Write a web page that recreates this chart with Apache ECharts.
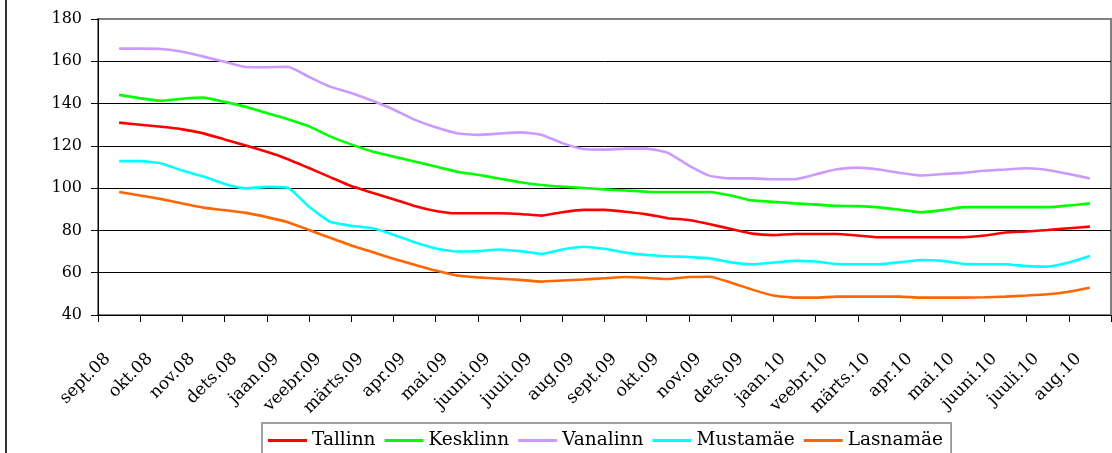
<!DOCTYPE html>
<html>
<head>
<meta charset="utf-8">
<script src="https://cdn.jsdelivr.net/npm/echarts@6/dist/echarts.min.js"></script>
<style>
html,body{margin:0;padding:0;background:#fff;}
#chart{width:1112px;height:453px;}
</style>
</head>
<body>
<div id="chart"></div>
<script>
// Month categories (x-axis labels)
var months = ['sept.08','okt.08','nov.08','dets.08','jaan.09','veebr.09','märts.09','apr.09','mai.09','juuni.09','juuli.09','aug.09',
  'sept.09','okt.09','nov.09','dets.09','jaan.10','veebr.10','märts.10','apr.10','mai.10','juuni.10','juuli.10','aug.10'];

// Series values: one value every half month, from mid sept.08 to mid aug.10
var tallinn = [131,130,129,127.8,125.9,123,120.2,117.2,113.7,109.5,105.2,101,97.8,94.8,91.5,89.2,88.1,88.1,88.1,87.8,87,88.6,89.7,89.7,88.8,87.6,85.8,84.9,82.9,80.7,78.5,77.8,78.3,78.3,78.3,77.6,76.8,76.8,76.8,76.8,76.8,77.6,79,79.5,80.2,81,81.8];
var kesklinn = [144.1,142.5,141.3,142.3,142.8,140.8,138.5,135.5,132.6,129.2,124.5,120.7,117.3,114.9,112.6,110.2,107.8,106.3,104.6,102.8,101.5,100.7,100.1,99.4,98.9,98.3,98.2,98.2,98.2,96.5,94.2,93.5,92.8,92.2,91.6,91.5,90.9,89.8,88.6,89.6,91,91,91,91,91,91.8,92.8];
var vanalinn = [166,166,165.8,164.5,162.2,159.8,157.3,157.2,157.4,152.6,148,145,141.3,137.2,132.4,128.8,126,125.2,125.8,126.4,125.3,121.3,118.5,118.2,118.7,118.7,116.7,110.7,105.8,104.6,104.6,104.2,104.2,106.5,108.9,109.7,108.8,107.2,106,106.7,107.2,108.2,108.8,109.4,108.6,106.7,104.6];
var mustamae = [112.8,112.8,111.7,108.3,105.5,102,99.9,100.6,100.2,91.2,84.1,82.2,81,78,74.4,71.5,70,70.2,71,70.2,68.9,71,72.3,71.3,69.5,68.4,67.8,67.4,66.8,64.9,64,64.8,65.6,65.3,64.1,64,64,65,66,65.6,64.2,64,64,63.1,62.9,64.8,67.9];
var lasnamae = [98.2,96.5,94.8,92.7,90.8,89.6,88.3,86.3,83.9,80.2,76.5,72.9,69.8,66.6,63.8,61,58.7,57.8,57.2,56.6,55.8,56.3,56.8,57.4,58,57.6,57,58,58.1,55.3,52,49.2,48.2,48.2,48.7,48.7,48.7,48.7,48.2,48.2,48.2,48.4,48.7,49.2,49.8,51,52.9];

var seriesNames = ['Tallinn','Kesklinn','Vanalinn','Mustamäe','Lasnamäe'];
var seriesValues = [tallinn, kesklinn, vanalinn, mustamae, lasnamae];
var seriesColors = ['#ff0000','#00ff00','#cc99ff','#00ffff','#ff6600'];

var FONT = 'DejaVu Serif';
var chart = echarts.init(document.getElementById('chart'), null, {renderer:'canvas'});

var series = seriesNames.map(function(name, s){
  return {
    name: name,
    type: 'line',
    xAxisIndex: 1,
    yAxisIndex: 0,
    symbol: 'none',
    smooth: 0.15,
    lineStyle: {width: 2.6, color: seriesColors[s]},
    itemStyle: {color: seriesColors[s]},
    data: seriesValues[s].map(function(v, i){ return [i + 1, v]; })
  };
});

chart.setOption({
  animation: false,
  backgroundColor: '#fff',
  textStyle: {fontFamily: FONT, color: '#000'},
  graphic: [{
    type: 'line',
    shape: {x1: 6, y1: 0, x2: 6, y2: 453},
    style: {stroke: '#333', lineWidth: 2}
  }],
  grid: {left: 98, right: 1, top: 19, bottom: 138, show: true, borderColor: '#808080', borderWidth: 2, backgroundColor: 'transparent'},
  legend: {
    data: seriesNames,
    left: 262, top: 423,
    orient: 'horizontal',
    icon: 'rect',
    itemWidth: 39, itemHeight: 3, itemGap: 9,
    padding: [8, 8, 10, 6],
    borderColor: '#808080', borderWidth: 1.5,
    textStyle: {fontFamily: FONT, fontSize: 18.5, color: '#000'}
  },
  xAxis: [{
    type: 'category',
    data: months,
    boundaryGap: true,
    axisLine: {show: true, lineStyle: {color: '#000', width: 1}},
    axisTick: {show: true, interval: 0, length: 7, lineStyle: {color: '#000'}},
    axisLabel: {interval: 0, rotate: 45, fontFamily: FONT, fontSize: 17, color: '#000', margin: 30, padding: [0, 16, 0, 0]},
    splitLine: {show: false}
  }, {
    type: 'value',
    min: 0, max: 48,
    show: false
  }],
  yAxis: [{
    type: 'value',
    min: 40, max: 180, interval: 20,
    axisLine: {show: true, lineStyle: {color: '#000', width: 1}},
    axisTick: {show: true, length: 7, lineStyle: {color: '#000'}},
    axisLabel: {fontFamily: FONT, fontSize: 16, color: '#000', margin: 16},
    splitLine: {show: true, showMaxLine: false, lineStyle: {color: '#000', width: 1}}
  }],
  series: series
});
</script>
</body>
</html>
